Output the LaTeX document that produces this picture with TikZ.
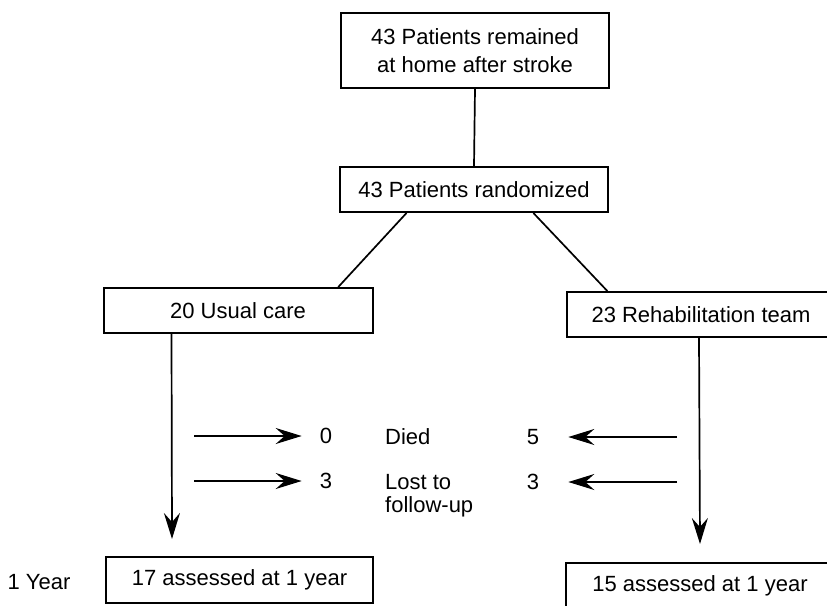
\documentclass[tikz,border=0pt]{standalone}
\usepackage{fontspec}
\setmainfont{Liberation Sans}
\usetikzlibrary{arrows.meta,calc}
\tikzset{
  box/.style={draw, line width=2pt, inner sep=0pt, align=center, minimum height=45pt, minimum width=268pt},
  txt/.style={inner sep=0pt, align=left},
  conn/.style={line width=1.7pt},
  arr/.style={line width=1.7pt, -{Stealth[length=26pt,width=16pt,inset=9pt]}}
}
\begin{document}
\begin{tikzpicture}[x=1pt,y=-1pt,font=\fontsize{22}{28}\selectfont]
\useasboundingbox (0,0) rectangle (827,605);
\clip (0,0) rectangle (827,605);
% boxes
\node[box, minimum height=75pt] (top) at (475,50.5) {43 Patients remained\\at home after stroke};
\node[box] (rand) at (474,189.5) {43 Patients randomized};
\node[box, minimum width=269pt] (usual) at (238,310.5) {20 Usual care};
\node[box] (rehab) at (701,314.5) {23 Rehabilitation team};
\node[box, minimum width=267pt, minimum height=46pt] (a17) at (239.5,580) {17 assessed at 1 year};
\node[box] (a15) at (700,585.5) {15 assessed at 1 year};
\node[txt] (year) at (39,582) {1 Year};
% connectors
\draw[conn] (top.south) -- (rand.north);
\draw[conn] ($(rand.south west)!0.25!(rand.south east)$) -- ($(usual.north west)!0.87!(usual.north east)$);
\draw[conn] ($(rand.south west)!0.72!(rand.south east)$) -- ($(rehab.north west)!0.153!(rehab.north east)$);
\coordinate (lend) at (172,539);
\coordinate (rend) at (700,544);
\draw[arr] ($(usual.south west)+(69,0)$) -- (lend);
\draw[arr] ($(rehab.south west)+(133,0)$) -- (rend);
% loss labels
\node[txt] (n0) at (326,436) {0};
\node[txt] (n3l) at (326,481) {3};
\node[txt, anchor=west] (died) at (385,437) {Died};
\node[txt, anchor=north west, font=\fontsize{22}{23}\selectfont] (lost) at (385,474) {Lost to\\follow-up};
\node[txt] (n5) at (533,437) {5};
\node[txt] (n3r) at (533,482) {3};
\coordinate (l1) at (194,436);
\coordinate (l2) at (194,481);
\coordinate (r1) at (677,437);
\coordinate (r2) at (677,482);
\draw[arr, shorten >=18pt] (l1) -- (n0.west);
\draw[arr, shorten >=18pt] (l2) -- (n3l.west);
\draw[arr, shorten >=29pt] (r1) -- (n5.east);
\draw[arr, shorten >=29pt] (r2) -- (n3r.east);
\end{tikzpicture}
\end{document}
